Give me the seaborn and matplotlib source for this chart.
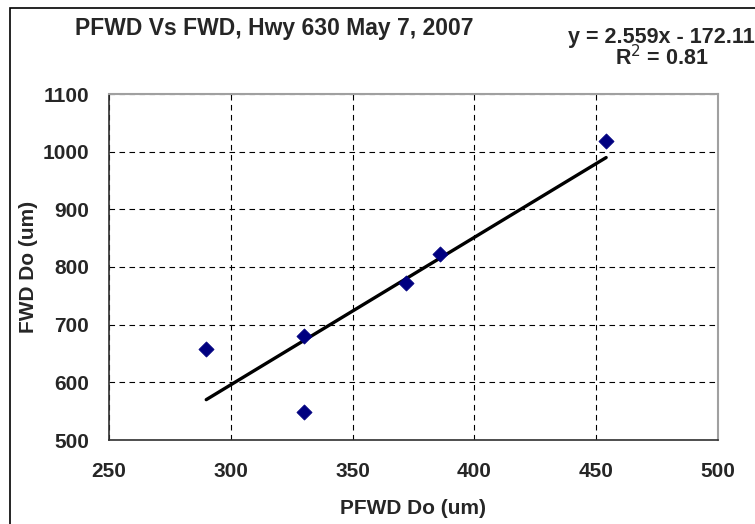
import numpy as np
import pandas as pd
import matplotlib
matplotlib.use("Agg")
import matplotlib.pyplot as plt
import seaborn as sns

# PFWD vs FWD deflection readings (um)
pfwd_do = [290, 330, 330, 372, 386, 454]
fwd_do = [658, 681, 549, 772, 822, 1018]
x_ticks = [250, 300, 350, 400, 450, 500]
y_ticks = [500, 600, 700, 800, 900, 1000, 1100]

data = pd.DataFrame({"PFWD": pfwd_do, "FWD": fwd_do})

sns.set_style("white")
plt.rcParams["font.family"] = ["Liberation Sans", "DejaVu Sans"]

fig = plt.figure(figsize=(7.55, 5.24), dpi=100)
ax = fig.add_axes([108.7 / 755, 1 - 440 / 524, (718.3 - 108.7) / 755, (440 - 94) / 524])

# trendline (linear fit, drawn over the data range)
sns.regplot(data=data, x="PFWD", y="FWD", ci=None, scatter=False, truncate=True,
            line_kws={"color": "black", "lw": 2.4, "solid_capstyle": "round"}, ax=ax)
sns.scatterplot(data=data, x="PFWD", y="FWD", marker="D", s=60, color="#000080",
                edgecolor="#000080", linewidth=0.5, zorder=3, ax=ax)

ax.set_xlim(250, 500)
ax.set_ylim(500, 1100)
ax.set_xticks(x_ticks)
ax.set_yticks(y_ticks)
ax.grid(True, color="black", linestyle=(0, (5, 4)), linewidth=0.8)
ax.set_axisbelow(True)

for side in ["top", "right"]:
    ax.spines[side].set_color("#a0a0a0")
    ax.spines[side].set_linewidth(1.5)
for side in ["left", "bottom"]:
    ax.spines[side].set_color("#303030")
    ax.spines[side].set_linewidth(1.2)

ax.tick_params(axis="both", direction="out", length=6, width=1, color="#303030",
               labelsize=15)
ax.tick_params(axis="y", pad=8)
ax.tick_params(axis="x", pad=10)
for lbl in ax.get_xticklabels() + ax.get_yticklabels():
    lbl.set_fontweight("bold")

ax.set_xlabel("PFWD Do (um)", fontsize=15, fontweight="bold", labelpad=13)
ax.set_ylabel("FWD Do (um)", fontsize=15, fontweight="bold", labelpad=3)

fig.text(274 / 755, 1 - 28 / 524, "PFWD Vs FWD, Hwy 630 May 7, 2007", fontsize=16.5,
         fontweight="bold", ha="center", va="center")
fig.text(661 / 755, 1 - 37 / 524, "y = 2.559x - 172.11", fontsize=15.5,
         fontweight="bold", ha="center", va="center")
fig.text(662 / 755, 1 - 58 / 524, "R$^2$ = 0.81", fontsize=15.5,
         fontweight="bold", ha="center", va="center")

# outer chart-area border
fig.patches.append(plt.Rectangle((10 / 755, -0.1), 1.2, 1 - 8 / 524 + 0.1,
                                 transform=fig.transFigure, fill=False,
                                 edgecolor="black", linewidth=1.2))

fig.savefig("out.png", dpi=100)
